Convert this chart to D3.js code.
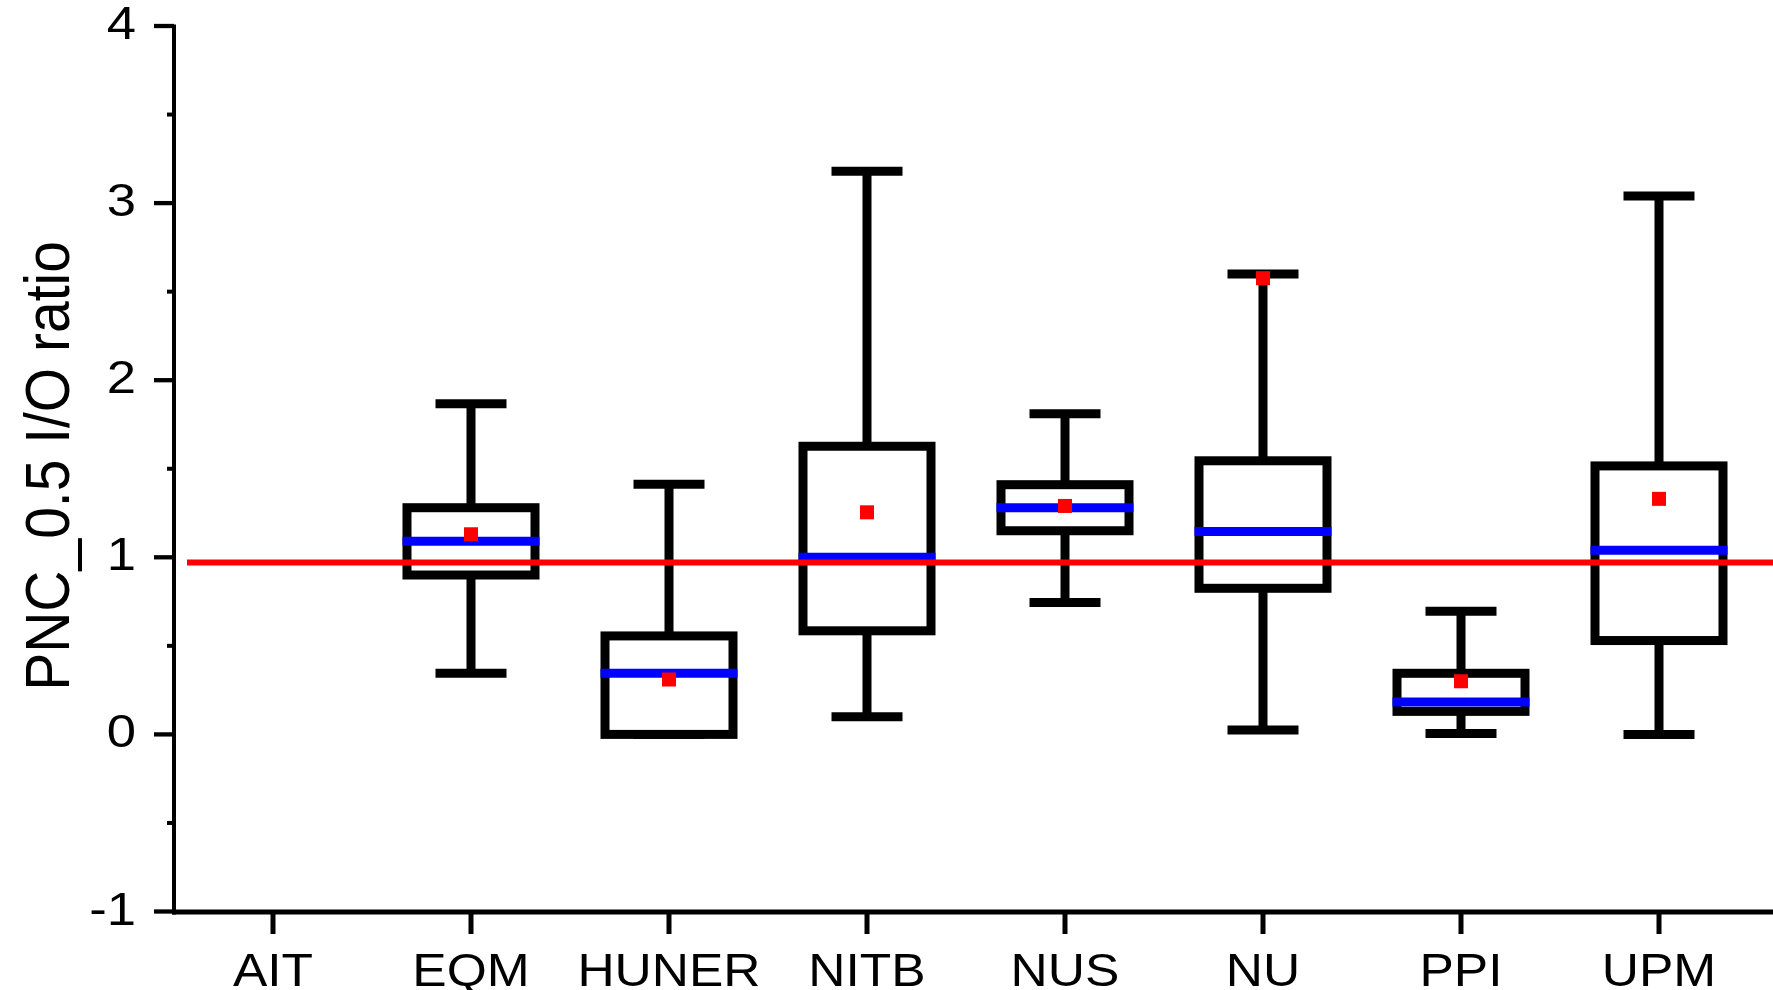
<!DOCTYPE html>
<html>
<head>
<meta charset="utf-8">
<script src="https://cdn.jsdelivr.net/npm/d3@7"></script>
<style>
  html, body { margin: 0; padding: 0; background: #fff; }
  svg { display: block; }
  text { font-family: "Liberation Sans", Arial, Helvetica, sans-serif; fill: #000; }
</style>
</head>
<body>
<svg id="chart" width="1773" height="990"></svg>
<script>
// Sites along the x axis
const categories = ["AIT", "EQM", "HUNER", "NITB", "NUS", "NU", "PPI", "UPM"];

// Box statistics per site (null = no data)
const whiskerLow  = [null, 0.345, 0.00, 0.10, 0.745, 0.025, 0.005, 0.00];
const q1          = [null, 0.90,  0.00, 0.585, 1.15, 0.825, 0.13, 0.53];
const median      = [null, 1.09,  0.345, 1.00, 1.28, 1.145, 0.183, 1.04];
const q3          = [null, 1.28,  0.556, 1.627, 1.41, 1.545, 0.345, 1.516];
const whiskerHigh = [null, 1.867, 1.412, 3.18, 1.81, 2.60, 0.695, 3.04];
const means       = [null, 1.13,  0.31, 1.254, 1.29, 2.576, 0.30, 1.33];

// Reference I/O level
const refLevel = 0.97;

// Axis ticks
const yMajorTicks = [-1, 0, 1, 2, 3, 4];
const yMinorTicks = [-0.5, 0.5, 1.5, 2.5, 3.5];
const yTickLabels = ["-1", "0", "1", "2", "3", "4"];
const yTitle = "PNC_0.5 I/O ratio";

const svg = d3.select("#chart");

const axisX = 174;     // y axis position
const axisY = 912;     // x axis position
const rightEdge = 1773;

const x = d3.scalePoint().domain(categories).range([273, 1659]);
const y = d3.scaleLinear().domain([-1, 4]).range([911.5, 26]);

const boxW = 128, capW = 71, lw = 9;

// ---- axes ----
const axes = svg.append("g");
axes.append("line")
  .attr("x1", axisX).attr("x2", axisX)
  .attr("y1", y(4) - 1.5).attr("y2", axisY + 2.5)
  .attr("stroke", "#000").attr("stroke-width", 4);
axes.append("line")
  .attr("x1", axisX - 2).attr("x2", rightEdge)
  .attr("y1", axisY).attr("y2", axisY)
  .attr("stroke", "#000").attr("stroke-width", 5);

axes.selectAll(".ymaj").data(yMajorTicks).enter().append("line")
  .attr("x1", axisX - 20).attr("x2", axisX)
  .attr("y1", d => y(d)).attr("y2", d => y(d))
  .attr("stroke", "#000").attr("stroke-width", 4.3);
axes.selectAll(".ymin").data(yMinorTicks).enter().append("line")
  .attr("x1", axisX - 7).attr("x2", axisX)
  .attr("y1", d => y(d)).attr("y2", d => y(d))
  .attr("stroke", "#000").attr("stroke-width", 4);

axes.selectAll(".xt").data(categories).enter().append("line")
  .attr("x1", d => x(d)).attr("x2", d => x(d))
  .attr("y1", axisY).attr("y2", axisY + 22)
  .attr("stroke", "#000").attr("stroke-width", 5);

// y tick labels
axes.selectAll(".ylab").data(yMajorTicks).enter().append("g")
  .attr("transform", (d) => `translate(136,${y(d) + 13}) scale(1.12,1)`)
  .append("text")
  .attr("text-anchor", "end")
  .attr("font-size", 47)
  .text((d, i) => yTickLabels[i]);

// x tick labels
axes.selectAll(".xlab").data(categories).enter().append("g")
  .attr("transform", d => `translate(${x(d)},986) scale(1.12,1)`)
  .append("text")
  .attr("text-anchor", "middle")
  .attr("font-size", 46)
  .text(d => d);

// y axis title
svg.append("g")
  .attr("transform", "translate(69,466) rotate(-90) scale(1,1.12)")
  .append("text")
  .attr("text-anchor", "middle")
  .attr("font-size", 57)
  .text(yTitle);

// ---- boxes ----
const rows = categories.map((c, i) => ({
  c, lo: whiskerLow[i], q1: q1[i], med: median[i], q3: q3[i], hi: whiskerHigh[i], mean: means[i]
})).filter(d => d.med !== null);

const boxes = svg.append("g").selectAll("g").data(rows).enter().append("g");

// whisker stems
boxes.append("line")
  .attr("x1", d => x(d.c)).attr("x2", d => x(d.c))
  .attr("y1", d => y(d.q3)).attr("y2", d => y(d.hi))
  .attr("stroke", "#000").attr("stroke-width", lw);
boxes.append("line")
  .attr("x1", d => x(d.c)).attr("x2", d => x(d.c))
  .attr("y1", d => y(d.q1)).attr("y2", d => y(d.lo))
  .attr("stroke", "#000").attr("stroke-width", lw);
// whisker caps
boxes.append("line")
  .attr("x1", d => x(d.c) - capW / 2).attr("x2", d => x(d.c) + capW / 2)
  .attr("y1", d => y(d.hi)).attr("y2", d => y(d.hi))
  .attr("stroke", "#000").attr("stroke-width", lw);
boxes.append("line")
  .attr("x1", d => x(d.c) - capW / 2).attr("x2", d => x(d.c) + capW / 2)
  .attr("y1", d => y(d.lo)).attr("y2", d => y(d.lo))
  .attr("stroke", "#000").attr("stroke-width", lw);
// interquartile box
boxes.append("rect")
  .attr("x", d => x(d.c) - boxW / 2)
  .attr("y", d => y(d.q3))
  .attr("width", boxW)
  .attr("height", d => y(d.q1) - y(d.q3))
  .attr("fill", "none")
  .attr("stroke", "#000").attr("stroke-width", lw);
// median
boxes.append("line")
  .attr("x1", d => x(d.c) - boxW / 2 - lw / 2).attr("x2", d => x(d.c) + boxW / 2 + lw / 2)
  .attr("y1", d => y(d.med)).attr("y2", d => y(d.med))
  .attr("stroke", "#0000ff").attr("stroke-width", lw);

// reference line
svg.append("line")
  .attr("x1", 187).attr("x2", rightEdge)
  .attr("y1", y(refLevel)).attr("y2", y(refLevel))
  .attr("stroke", "#ff0000").attr("stroke-width", 6);

// means
svg.append("g").selectAll("rect").data(rows).enter().append("rect")
  .attr("x", d => x(d.c) - 7)
  .attr("y", d => y(d.mean) - 7)
  .attr("width", 14).attr("height", 14)
  .attr("fill", "#ff0000");
</script>
</body>
</html>
